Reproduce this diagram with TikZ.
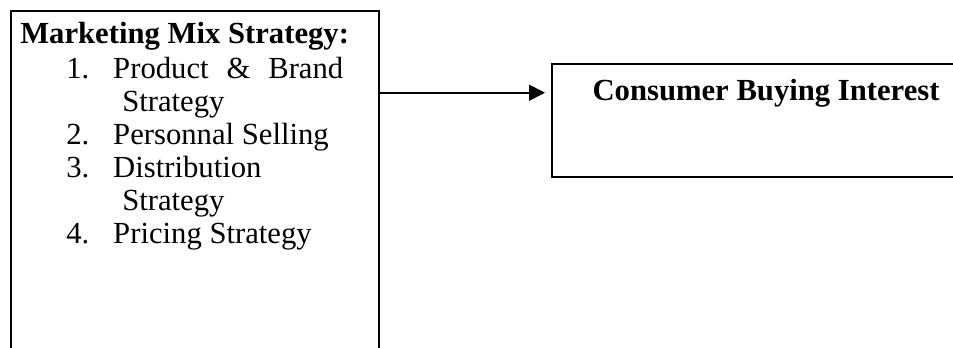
\documentclass[tikz,border=0pt]{standalone}
\usepackage{fontspec}
\setmainfont{Liberation Serif}
\usetikzlibrary{arrows.meta, positioning, calc}
\definecolor{BLACK}{HTML}{000000}
\newcommand*{\MixItem}[2]{\makebox[35.25pt][l]{#1}#2}

\begin{document}
\begin{tikzpicture}[x=0.75pt, y=-0.75pt,
    box/.style={draw=BLACK, line width=1.6pt, inner sep=0pt, anchor=north west},
    txt/.style={BLACK, inner sep=0pt, font=\fontsize{23}{24.75}\selectfont}]
    \useasboundingbox (0,0) rectangle (953,347);
    \clip (0,0) rectangle (953,347);
    % Boxes
    \node[box, minimum width=276pt, minimum height=262.5pt] (mix) at (9.5,10) {};
    \node[box, minimum width=321pt, minimum height=84.75pt] (interest) at (551,63) {};
    % Texts
    \node[txt, anchor=north west, align=left] (mixlist) at (20,22.4) {\textbf{Marketing Mix Strategy:}\\[1.5pt]
        \hspace*{34.5pt}\MixItem{1.}{\makebox[172.5pt][s]{Product \& Brand}}\\
        \hspace*{76.5pt}Strategy\\
        \hspace*{34.5pt}\MixItem{2.}{Personnal Selling}\\
        \hspace*{34.5pt}\MixItem{3.}{Distribution}\\
        \hspace*{76.5pt}Strategy\\
        \hspace*{34.5pt}\MixItem{4.}{Pricing Strategy}};
    \node[txt, anchor=base] (interestlabel) at ($(interest.north)+(0,37)$) {\textbf{Consumer Buying Interest}};
    % Arrow
    \draw[BLACK, line width=1.3pt, -{Triangle[length=12pt, width=12pt]}, shorten >=4.5pt] (mix.east |- interestlabel.center) -- (interest.west |- interestlabel.center);
\end{tikzpicture}
\end{document}
